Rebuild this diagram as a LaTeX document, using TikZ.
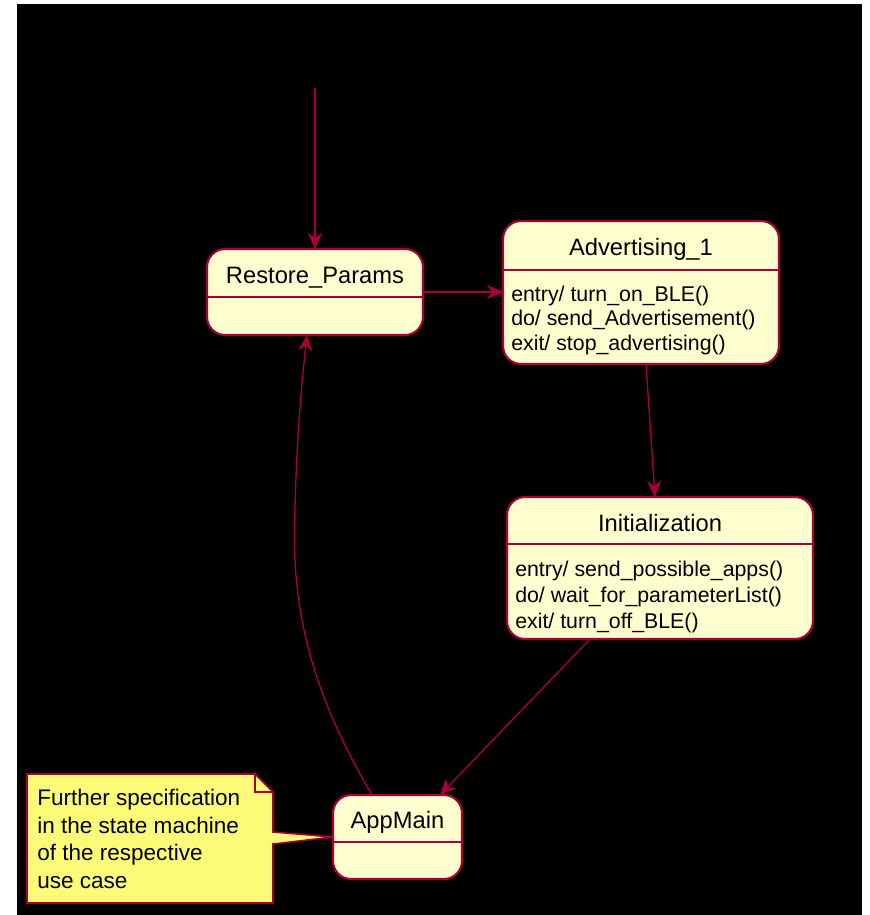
\documentclass[tikz,border=0pt]{standalone}
\usepackage{fontspec}
\setmainfont{Liberation Sans}
\usetikzlibrary{arrows.meta,calc}

\definecolor{statefill}{HTML}{FEFECE}
\definecolor{umlred}{HTML}{A80036}
\definecolor{notefill}{HTML}{FBFB77}

\tikzset{
  statebox/.style={draw=umlred, fill=statefill, line width=1.6pt,
    rounded corners=13.5pt, inner sep=0pt, outer sep=0pt},
  divider/.style={draw=umlred, line width=1.6pt},
  arr/.style={draw=umlred, line width=1pt,
    -{Stealth[length=12pt,width=10.5pt,inset=3.8pt]}},
  titletext/.style={anchor=base, inner sep=0pt, font=\fontsize{17.8pt}{20pt}\selectfont},
  bodytext/.style={anchor=base west, inner sep=0pt, font=\fontsize{16pt}{18pt}\selectfont},
  notetext/.style={anchor=base west, inner sep=0pt, font=\fontsize{16.9pt}{19pt}\selectfont},
}

\begin{document}
\begin{tikzpicture}[x=0.75pt,y=-0.75pt]
  % canvas
  \useasboundingbox (0,0) rectangle (869,915);
  \fill[white] (0,0) rectangle (869,915);
  \fill[black] (17,4) rectangle (862,915);

  % states
  \node[statebox, minimum width=162pt, minimum height=64.5pt] (restore) at (315,292) {};
  \draw[divider] (restore.west |- 0,297) -- (restore.east |- 0,297);
  \node[titletext] (restoreT) at (315,283) {Restore\_Params};

  \node[statebox, minimum width=207pt, minimum height=107.25pt] (adv) at (641,292.5) {};
  \draw[divider] (adv.west |- 0,270) -- (adv.east |- 0,270);
  \node[titletext] (advT) at (641,255) {Advertising\_1};
  \node[bodytext] (advA) at (511,301) {entry/ turn\_on\_BLE()};
  \node[bodytext] (advB) at (511,325.5) {do/ send\_Advertisement()};
  \node[bodytext] (advC) at (511,350) {exit/ stop\_advertising()};

  \node[statebox, minimum width=229.5pt, minimum height=106.5pt] (init) at (660,568) {};
  \draw[divider] (init.west |- 0,544) -- (init.east |- 0,544);
  \node[titletext] (initT) at (660,531.5) {Initialization};
  \node[bodytext] (initA) at (515,576) {entry/ send\_possible\_apps()};
  \node[bodytext] (initB) at (515,602) {do/ wait\_for\_parameterList()};
  \node[bodytext] (initC) at (515,628) {exit/ turn\_off\_BLE()};

  \node[statebox, minimum width=96.75pt, minimum height=63pt] (appmain) at (397.5,837) {};
  \draw[divider] (appmain.west |- 0,842) -- (appmain.east |- 0,842);
  \node[titletext] (appmainT) at (397.5,828) {AppMain};

  % note with folded corner and pointer to AppMain
  \filldraw[draw=umlred, fill=notefill, line width=1.2pt, line join=miter]
    (27,774) -- (255,774) -- (273,792) -- (273,832) -- (appmain.west) --
    (273,844) -- (273,903) -- (27,903) -- cycle;
  \draw[draw=umlred, line width=1.2pt] (255,774) -- (255,792) -- (273,792);
  \node[notetext] (noteA) at (37,805) {Further specification};
  \node[notetext] (noteB) at (37,833) {in the state machine};
  \node[notetext] (noteC) at (37,860.5) {of the respective};
  \node[notetext] (noteD) at (37,888) {use case};

  % transitions
  \coordinate (start) at (315,88);
  \draw[arr] (start) -- (restore.north);
  \draw[arr] (restore.east) -- (adv.west |- restore.east);
  \draw[arr] ($(adv.south)+(5,0)$) -- ($(init.north)+(-5,0)$);
  \draw[arr] ($(init.south)+(-70,0)$) -- ($(appmain.north)+(42.5,0)$);
  \draw[arr] ($(appmain.north)+(-25.5,0)$)
    .. controls (322,710) and (293,630) .. (294.5,530)
    .. controls (296,440) and (302,380) .. ($(restore.south)+(-8,0)$);
\end{tikzpicture}
\end{document}
